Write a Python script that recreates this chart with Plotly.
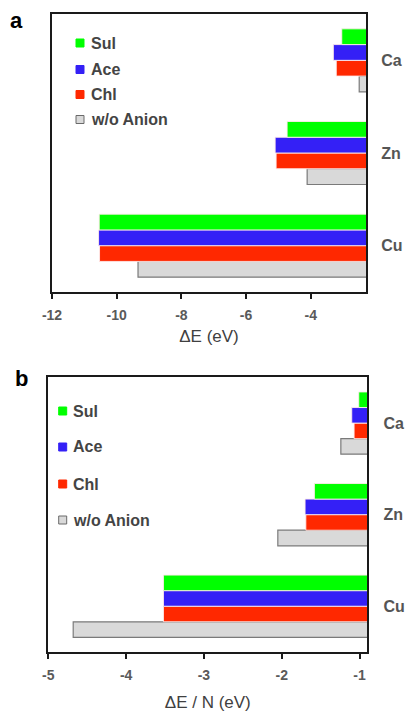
import plotly.graph_objects as go

# Metal cations and anion series
metals = ["Ca", "Zn", "Cu"]
series = ["Sul", "Ace", "Chl", "w/o Anion"]
colors = ["#00ff00", "#3420f6", "#ff2800", "#d9d9d9"]

# Binding energy ΔE (eV)
dE_sul = [-3.04, -4.73, -10.54]
dE_ace = [-3.30, -5.10, -10.56]
dE_chl = [-3.21, -5.07, -10.53]
dE_none = [-2.50, -4.11, -9.34]

# Binding energy per atom ΔE / N (eV)
dEN_sul = [-1.01, -1.58, -3.52]
dEN_ace = [-1.10, -1.70, -3.52]
dEN_chl = [-1.07, -1.69, -3.52]
dEN_none = [-1.24, -2.05, -4.68]

# Axis tick values and labels
ticks_a = [-12, -10, -8, -6, -4]
ticklabels_a = ["-12", "-10", "-8", "-6", "-4"]
ticks_b = [-5, -4, -3, -2, -1]
ticklabels_b = ["-5", "-4", "-3", "-2", "-1"]

W, H = 407, 712
FONT = "Liberation Sans, Arial, sans-serif"


def px(x):
    return x / W


def py(y):
    return 1 - y / H


fig = go.Figure()

panels = [
    ("x", "y", [dE_sul, dE_ace, dE_chl, dE_none]),
    ("x2", "y2", [dEN_sul, dEN_ace, dEN_chl, dEN_none]),
]
for xa, ya, vals in panels:
    # first trace sits at the bottom of each group
    for i in reversed(range(len(series))):
        gray = series[i] == "w/o Anion"
        fig.add_trace(go.Bar(
            y=metals, x=vals[i], orientation="h", name=series[i],
            xaxis=xa, yaxis=ya, showlegend=False,
            marker=dict(color=colors[i],
                        line=dict(color="#7a7a7a" if gray else "rgba(255,235,235,0.9)",
                                  width=1.2 if gray else 1)),
        ))

axis_common = dict(showline=True, mirror=True, linecolor="#1a1a1a", linewidth=2,
                   showgrid=False, zeroline=False, automargin=False)

fig.update_layout(
    width=W, height=H, margin=dict(l=0, r=0, t=0, b=0, autoexpand=False),
    paper_bgcolor="white", plot_bgcolor="white",
    barmode="group", bargap=0.32, bargroupgap=0,
    font=dict(family=FONT),
    xaxis=dict(domain=[px(52), px(366)], anchor="y", range=[-12, -2.29],
               tickvals=ticks_a, ticktext=ticklabels_a,
               ticks="outside", ticklen=5, tickwidth=2,
               tickcolor="#1a1a1a", ticklabelstandoff=4,
               tickfont=dict(size=14, color="#5a5a5a", weight="bold"),
               title=dict(text="ΔE (eV)", standoff=8,
                          font=dict(size=17, color="#404040")),
               **axis_common),
    yaxis=dict(domain=[py(292), py(14)], anchor="x", side="right",
               categoryorder="array", categoryarray=["Cu", "Zn", "Ca"],
               range=[-0.5, 2.5], ticks="", ticklabelstandoff=10,
               tickfont=dict(size=16, color="#555555", weight="bold"),
               **axis_common),
    xaxis2=dict(domain=[px(48.3), px(367.3)], anchor="y2", range=[-5, -0.9],
                tickvals=ticks_b, ticktext=ticklabels_b,
                ticks="outside", ticklen=5, tickwidth=2,
                tickcolor="#1a1a1a", ticklabelstandoff=4,
                tickfont=dict(size=14, color="#5a5a5a", weight="bold"),
                title=dict(text="ΔE / N (eV)", standoff=21,
                           font=dict(size=17, color="#404040")),
                **axis_common),
    yaxis2=dict(domain=[py(652), py(377.3)], anchor="x2", side="right",
                categoryorder="array", categoryarray=["Cu", "Zn", "Ca"],
                range=[-0.5, 2.5], ticks="", ticklabelstandoff=11,
                tickfont=dict(size=16, color="#555555", weight="bold"),
                **axis_common),
)

# Panel letters
fig.add_annotation(text="<b>a</b>", x=px(16), y=py(21), xref="paper", yref="paper",
                   xanchor="center", yanchor="middle",
                   showarrow=False, font=dict(size=22, color="black"))
fig.add_annotation(text="<b>b</b>", x=px(21), y=py(378), xref="paper", yref="paper",
                   xanchor="center", yanchor="middle",
                   showarrow=False, font=dict(size=22, color="black"))

# Legends drawn inside each panel
legend_specs = [
    (80, 88.5, [43, 69.5, 94.5, 119.5]),
    (62.7, 71, [411, 447, 484, 520]),
]
for cx, tx, ys in legend_specs:
    for name, col, yc in zip(series, colors, ys):
        gray = name == "w/o Anion"
        fig.add_shape(type="rect", xref="paper", yref="paper",
                      x0=px(cx - 4), x1=px(cx + 4), y0=py(yc + 4), y1=py(yc - 4),
                      fillcolor=col,
                      line=dict(color="#6a6a6a" if gray else col, width=1))
        fig.add_annotation(text=f"<b>{name}</b>", x=px(tx), y=py(yc),
                           xref="paper", yref="paper", xanchor="left",
                           yanchor="middle", showarrow=False,
                           font=dict(size=16, color="#444444"))

fig.write_html("out.html")
